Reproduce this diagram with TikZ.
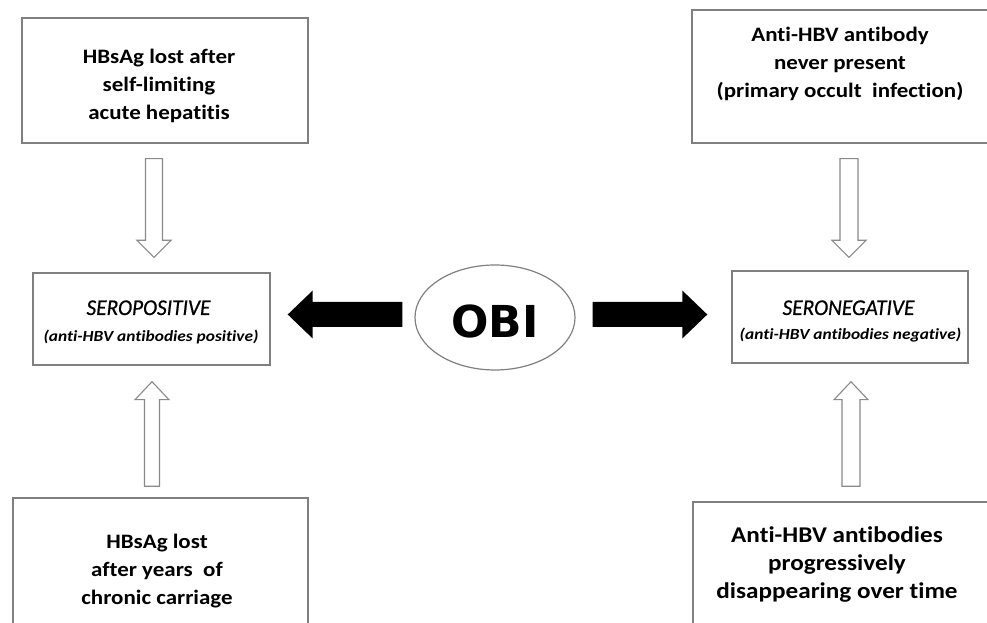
\documentclass[tikz,border=0pt]{standalone}
\usepackage{fontspec}
\setmainfont{Carlito}[FakeStretch=1.12, Ligatures=NoCommon]
\newfontfamily\headfont{Carlito}[FakeStretch=0.95, FakeBold=0.6, Ligatures=NoCommon]
\newfontfamily\obifont{DejaVu Sans}
\usetikzlibrary{shapes.geometric,calc}
\definecolor{boxgray}{HTML}{808080}
\definecolor{arrgray}{HTML}{8A8A8A}
\tikzset{
  boxst/.style={draw=boxgray, line width=1.4pt, rectangle, inner sep=0pt},
  txtst/.style={align=center, font=\bfseries\fontsize{20.5}{28}\selectfont, inner sep=0pt},
  txtbig/.style={align=center, font=\bfseries\fontsize{22.5}{28}\selectfont, inner sep=0pt},
  headst/.style={anchor=base, inner sep=0pt, font=\headfont\itshape\fontsize{22.5}{26}\selectfont},
  subst/.style={anchor=base, inner sep=0pt, font=\bfseries\itshape\fontsize{15.5}{18}\selectfont},
  hollow/.style={draw=arrgray, line width=1.1pt, fill=white, line join=miter},
  solidarr/.style={fill=black, draw=none},
}
\begin{document}
\begin{tikzpicture}[x=1pt,y=1pt]
\useasboundingbox (0,0) rectangle (987,623);
\fill[white] (0,0) rectangle (987,623);
\clip (0,0) rectangle (987,623);

% boxes
\node[boxst, minimum width=286pt, minimum height=125pt] (tl) at (165,542.5) {};
\node[txtst] (tlt) at (159,536.6) {HBsAg lost after\\ self-limiting\\acute hepatitis};

\node[boxst, minimum width=298pt, minimum height=133pt] (tr) at (841,546.5) {};
\node[txtst] (trt) at (840,559) {Anti-HBV antibody\\never present\\(primary occult~ infection)};

\node[boxst, minimum width=237pt, minimum height=92pt] (sp) at (151.5,304) {};
\node[headst] (spt) at (148.5,308) {SEROPOSITIVE};
\node[subst] (sps) at (151,281) {(anti-HBV antibodies positive)};

\node[boxst, minimum width=236pt, minimum height=92pt] (sn) at (850,306) {};
\node[headst] (snt) at (848.5,308) {SERONEGATIVE};
\node[subst] (sns) at (850.5,283) {(anti-HBV antibodies negative)};

\node[boxst, minimum width=295pt, minimum height=142pt] (bl) at (160.5,54) {};
\node[txtst] (blt) at (157,51.5) {HBsAg lost\\after years~ of\\chronic carriage};

\node[boxst, minimum width=307pt, minimum height=138pt] (br) at (846.5,52) {};
\node[txtbig] (brt) at (837,58) {Anti-HBV antibodies\\progressively\\disappearing over time};

% OBI
\node[draw=boxgray, line width=1.2pt, ellipse, minimum width=160pt, minimum height=105pt, inner sep=0pt] (obi) at (495,305.5) {};
\node[inner sep=0pt, font=\obifont\bfseries\fontsize{44}{44}\selectfont] (obit) at (495,302) {OBI};

% black arrows
\fill[solidarr] let \p1=(obi.west), \p2=(sp.east) in
  (\x1-12pt,\y1+15.5pt) -- (\x2+42pt,\y1+15.5pt) -- (\x2+42pt,\y1+27pt) -- (\x2+17pt,\y1+3pt)
  -- (\x2+42pt,\y1-21pt) -- (\x2+42pt,\y1-9.5pt) -- (\x1-12pt,\y1-9.5pt) -- cycle;
\fill[solidarr] let \p1=(obi.east), \p2=(sn.west) in
  (\x1+17pt,\y1+15.5pt) -- (\x2-49pt,\y1+15.5pt) -- (\x2-49pt,\y1+27pt) -- (\x2-24pt,\y1+3pt)
  -- (\x2-49pt,\y1-21pt) -- (\x2-49pt,\y1-9.5pt) -- (\x1+17pt,\y1-9.5pt) -- cycle;

% hollow arrows
\draw[hollow] let \p1=(tl.south), \p2=(sp.north) in
  (\x2-6pt,\y1-15pt) -- (\x2+11pt,\y1-15pt) -- (\x2+11pt,\y2+32pt) -- (\x2+19.5pt,\y2+32pt)
  -- (\x2+2.5pt,\y2+15pt) -- (\x2-14.5pt,\y2+32pt) -- (\x2-6pt,\y2+32pt) -- cycle;
\draw[hollow] let \p1=(tr.south), \p2=(sn.north) in
  (\x2-10pt,\y1-15pt) -- (\x2+8pt,\y1-15pt) -- (\x2+8pt,\y2+30pt) -- (\x2+16pt,\y2+30pt)
  -- (\x2-1pt,\y2+13pt) -- (\x2-18pt,\y2+30pt) -- (\x2-10pt,\y2+30pt) -- cycle;
\draw[hollow] let \p1=(bl.north), \p2=(sp.south) in
  (\x2-7pt,\y1+11pt) -- (\x2+8pt,\y1+11pt) -- (\x2+8pt,\y2-34pt) -- (\x2+17.5pt,\y2-34pt)
  -- (\x2+0.5pt,\y2-16pt) -- (\x2-16.5pt,\y2-34pt) -- (\x2-7pt,\y2-34pt) -- cycle;
\draw[hollow] let \p1=(br.north), \p2=(sn.south) in
  (\x2-8pt,\y1+15pt) -- (\x2+10pt,\y1+15pt) -- (\x2+10pt,\y2-36pt) -- (\x2+18pt,\y2-36pt)
  -- (\x2+1pt,\y2-18pt) -- (\x2-16pt,\y2-36pt) -- (\x2-8pt,\y2-36pt) -- cycle;
\end{tikzpicture}
\end{document}
